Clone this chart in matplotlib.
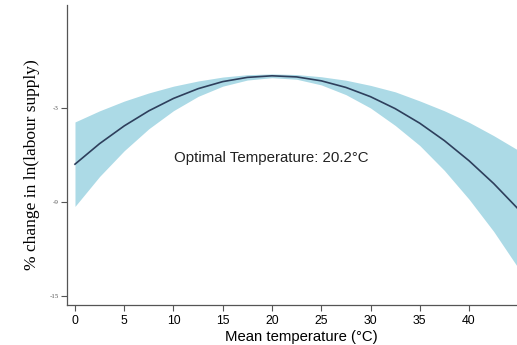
"""
Labour supply response to mean temperature, with confidence band.
"""

import numpy as np
import matplotlib.pyplot as plt

# ----------------------------------------
# Data
# ----------------------------------------

temperature = [0, 2.5, 5, 7.5, 10, 12.5, 15, 17.5, 20, 22.5,
               25, 27.5, 30, 32.5, 35, 37.5, 40, 42.5, 45]

estimate = [-6.58, -5.27, -4.14, -3.18, -2.39, -1.77, -1.32, -1.05, -0.95, -1.02,
            -1.27, -1.69, -2.28, -3.04, -3.97, -5.08, -6.36, -7.81, -9.44]

lower = [-9.27, -7.36, -5.72, -4.32, -3.17, -2.26, -1.61, -1.22, -1.07, -1.17,
         -1.53, -2.15, -3.00, -4.11, -5.39, -6.98, -8.81, -10.86, -13.19]

upper = [-3.89, -3.18, -2.56, -2.04, -1.61, -1.28, -1.03, -0.88, -0.83, -0.87,
         -1.01, -1.23, -1.56, -1.97, -2.55, -3.18, -3.91, -4.76, -5.69]

optimal_temp = 20.2

x_ticks = [0, 5, 10, 15, 20, 25, 30, 35, 40]
y_ticks = [-3, -9, -15]

# ----------------------------------------
# Plot
# ----------------------------------------

fig = plt.figure(figsize=(5.17, 3.45), dpi=100)
ax = fig.add_axes([0.1296, 0.1159, 0.8704, 0.8696])

ax.fill_between(
    temperature,
    lower,
    upper,
    color="#acdae6",
    linewidth=0
)

ax.plot(
    temperature,
    estimate,
    color="#2e3f5c",
    linewidth=1.2
)

ax.text(
    19.9,
    -6.2,
    f"Optimal Temperature: {optimal_temp}°C",
    ha="center",
    va="center",
    fontsize=10.8,
    family="Liberation Sans",
    color="#222222"
)

ax.set_xlim(-0.81, 44.87)
ax.set_ylim(-15.55, 3.56)

ax.set_xticks(x_ticks)
ax.set_xticklabels(
    [str(t) for t in x_ticks],
    fontsize=8.8,
    family="Liberation Sans"
)

ax.set_yticks(y_ticks)
ax.set_yticklabels(
    [str(t) for t in y_ticks],
    fontsize=5,
    family="Liberation Serif",
    color="#555555"
)

ax.set_xlabel(
    "Mean temperature (°C)",
    fontsize=10.7,
    family="Liberation Sans"
)
ax.xaxis.set_label_coords(0.5216, -0.083)
ax.xaxis.label.set_verticalalignment("top")

ax.set_ylabel(
    "% change in ln(labour supply)",
    fontsize=12.5,
    family="Liberation Serif"
)
ax.yaxis.set_label_coords(-0.06, 0.467)

for side in ["top", "right"]:
    ax.spines[side].set_visible(False)

for side in ["left", "bottom"]:
    ax.spines[side].set_color("#555555")
    ax.spines[side].set_linewidth(0.9)

ax.tick_params(
    axis="both",
    direction="out",
    length=4,
    width=0.8,
    color="#555555",
    pad=2
)
ax.tick_params(axis="x", pad=3.5)

fig.savefig("out.png", dpi=100)
plt.close(fig)
